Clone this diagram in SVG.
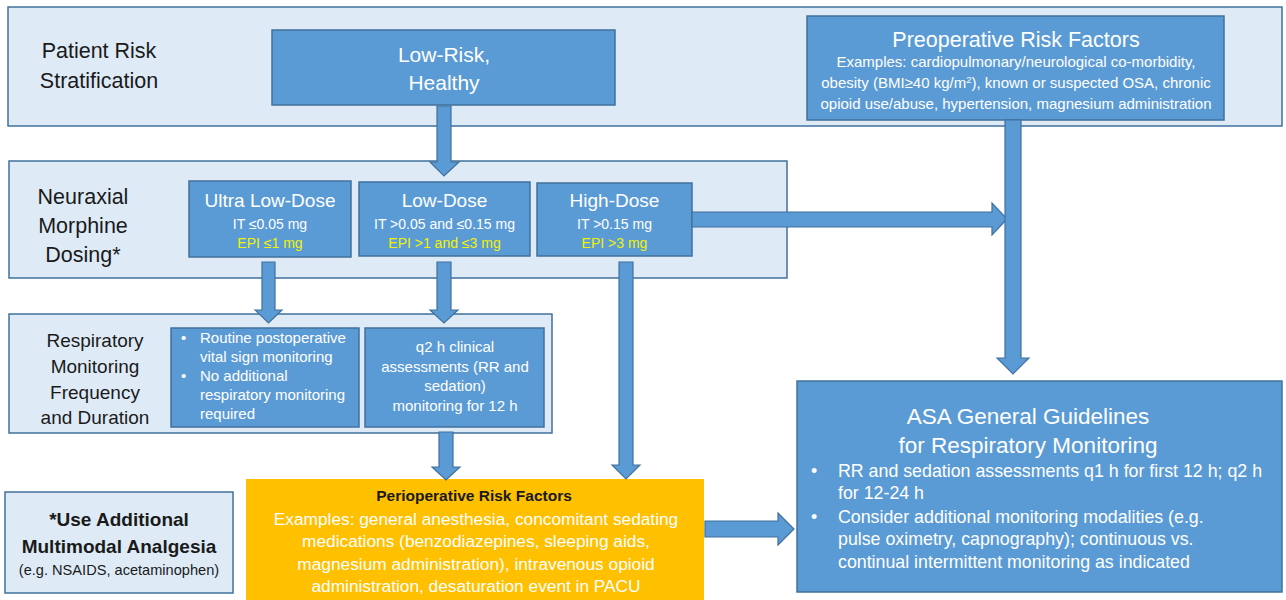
<svg xmlns="http://www.w3.org/2000/svg" width="1286" height="600" viewBox="0 0 1286 600">
<style>
.band{fill:#DEEBF7;stroke:#41719C;stroke-width:1.5}
.box{fill:#5B9BD5;stroke:#41719C;stroke-width:1.5}
.gold{fill:#FFC000}
.arrow{fill:#5B9BD5;stroke:#41719C;stroke-width:1.2;stroke-linejoin:miter}
text{font-family:"Liberation Sans",Arial,sans-serif}
.lbl{fill:#1a1a1a;font-size:21.5px;text-anchor:middle}
.w{fill:#ffffff}
.y{fill:#F2F200}
.c{text-anchor:middle}
</style>
<rect width="1286" height="600" fill="#ffffff"/>
<g id="band-patient-risk">
<rect class="band" x="8" y="7" width="1274" height="119"/>
<text class="lbl" x="99" y="58">Patient Risk</text>
<text class="lbl" x="99" y="88">Stratification</text>
</g>
<g id="band-dosing">
<rect class="band" x="9" y="161" width="778" height="117"/>
<text class="lbl" x="83" y="204">Neuraxial</text>
<text class="lbl" x="83" y="233">Morphine</text>
<text class="lbl" x="83" y="262">Dosing*</text>
</g>
<g id="band-monitoring">
<rect class="band" x="9" y="314" width="543" height="119"/>
<text class="lbl" x="95" y="347" style="font-size:19px">Respiratory</text>
<text class="lbl" x="95" y="373" style="font-size:19px">Monitoring</text>
<text class="lbl" x="95" y="399" style="font-size:19px">Frequency</text>
<text class="lbl" x="95" y="424" style="font-size:19px">and Duration</text>
</g>
<g id="node-low-risk">
<rect class="box" x="272" y="30" width="343" height="75"/>
<text class="w c" x="444" y="62" font-size="21">Low-Risk,</text>
<text class="w c" x="444" y="90" font-size="21">Healthy</text>
</g>
<g id="node-preop">
<rect class="box" x="807" y="16" width="417" height="104"/>
<text class="w c" x="1016" y="47" font-size="21.5">Preoperative Risk Factors</text>
<text class="w c" x="1016" y="67" font-size="15">Examples: cardiopulmonary/neurological co-morbidity,</text>
<text class="w c" x="1016" y="88" font-size="15">obesity (BMI≥40 kg/m<tspan font-size="9.5" dy="-5">2</tspan><tspan dy="5">), known or suspected OSA, chronic</tspan></text>
<text class="w c" x="1016" y="109" font-size="15">opioid use/abuse, hypertension, magnesium administration</text>
</g>
<g id="node-ultra-low">
<rect class="box" x="189" y="181" width="162" height="76"/>
<text class="w c" x="270" y="207" font-size="19">Ultra Low-Dose</text>
<text class="w c" x="270" y="229" font-size="14">IT ≤0.05 mg</text>
<text class="y c" x="270" y="248" font-size="14">EPI ≤1 mg</text>
</g>
<g id="node-low-dose">
<rect class="box" x="359" y="182" width="171" height="74"/>
<text class="w c" x="444.5" y="207" font-size="19">Low-Dose</text>
<text class="w c" x="444.5" y="229" font-size="14">IT &gt;0.05 and ≤0.15 mg</text>
<text class="y c" x="444.5" y="248" font-size="14">EPI &gt;1 and ≤3 mg</text>
</g>
<g id="node-high-dose">
<rect class="box" x="537" y="183" width="155" height="73"/>
<text class="w c" x="614.5" y="207" font-size="19">High-Dose</text>
<text class="w c" x="614.5" y="229" font-size="14">IT &gt;0.15 mg</text>
<text class="y c" x="614.5" y="248" font-size="14">EPI &gt;3 mg</text>
</g>
<g id="node-routine">
<rect class="box" x="171" y="328" width="188" height="99"/>
<g class="w" font-size="15">
<text x="181" y="343">•</text>
<text x="200" y="343">Routine postoperative</text>
<text x="200" y="362">vital sign monitoring</text>
<text x="181" y="381">•</text>
<text x="200" y="381">No additional</text>
<text x="200" y="400">respiratory monitoring</text>
<text x="200" y="419">required</text>
</g>
</g>
<g id="node-q2h">
<rect class="box" x="365" y="328" width="179" height="99"/>
<g class="w c" font-size="15">
<text x="455" y="352">q2 h clinical</text>
<text x="455" y="372">assessments (RR and</text>
<text x="455" y="391">sedation)</text>
<text x="455" y="411">monitoring for 12 h</text>
</g>
</g>
<g id="node-multimodal">
<rect class="band" x="5" y="492" width="228" height="101"/>
<text class="c" x="119" y="526" font-size="19" font-weight="bold" fill="#1a1a1a">*Use Additional</text>
<text class="c" x="119" y="553" font-size="19" font-weight="bold" fill="#1a1a1a">Multimodal Analgesia</text>
<text class="c" x="119" y="575" font-size="14.6" fill="#1a1a1a">(e.g. NSAIDS, acetaminophen)</text>
</g>
<g id="node-periop">
<rect class="gold" x="246" y="479" width="458" height="121"/>
<text class="c" x="474" y="501" font-size="15.5" font-weight="bold" fill="#1a1a1a">Perioperative Risk Factors</text>
<g class="w c" font-size="17.3">
<text x="476" y="525">Examples: general anesthesia, concomitant sedating</text>
<text x="476" y="547">medications (benzodiazepines, sleeping aids,</text>
<text x="476" y="570">magnesium administration), intravenous opioid</text>
<text x="476" y="592">administration, desaturation event in PACU</text>
</g>
</g>
<g id="node-asa">
<rect class="box" x="797" y="381" width="485" height="211"/>
<text class="w c" x="1028" y="424" font-size="22.5">ASA General Guidelines</text>
<text class="w c" x="1028" y="453" font-size="22.5">for Respiratory Monitoring</text>
<g class="w" font-size="17.8">
<text x="811" y="477">•</text>
<text x="838" y="477">RR and sedation assessments q1 h for first 12 h; q2 h</text>
<text x="838" y="499">for 12-24 h</text>
<text x="811" y="523">•</text>
<text x="838" y="523">Consider additional monitoring modalities (e.g.</text>
<text x="838" y="545">pulse oximetry, capnography); continuous vs.</text>
<text x="838" y="568">continual intermittent monitoring as indicated</text>
</g>
</g>
<g id="connectors">
<polygon class="arrow" points="437,106 451,106 451,162 459,162 444,176 430,162 437,162"/>
<polygon class="arrow" points="692,212 992,212 992,203 1007,219 992,235 992,227 692,227"/>
<polygon class="arrow" points="1005,120 1021,120 1021,358 1029,358 1013,374 997,358 1005,358"/>
<polygon class="arrow" points="262,262 275,262 275,310 282,310 268.5,323 255,310 262,310"/>
<polygon class="arrow" points="437,262 451,262 451,310 458,310 444,323 430,310 437,310"/>
<polygon class="arrow" points="619,262 633,262 633,465 640,465 626,479 612,465 619,465"/>
<polygon class="arrow" points="439,432 453,432 453,467 460,467 446,480 432,467 439,467"/>
<polygon class="arrow" points="705,521 778,521 778,513 794,529 778,545 778,537 705,537"/>
</g>
</svg>
